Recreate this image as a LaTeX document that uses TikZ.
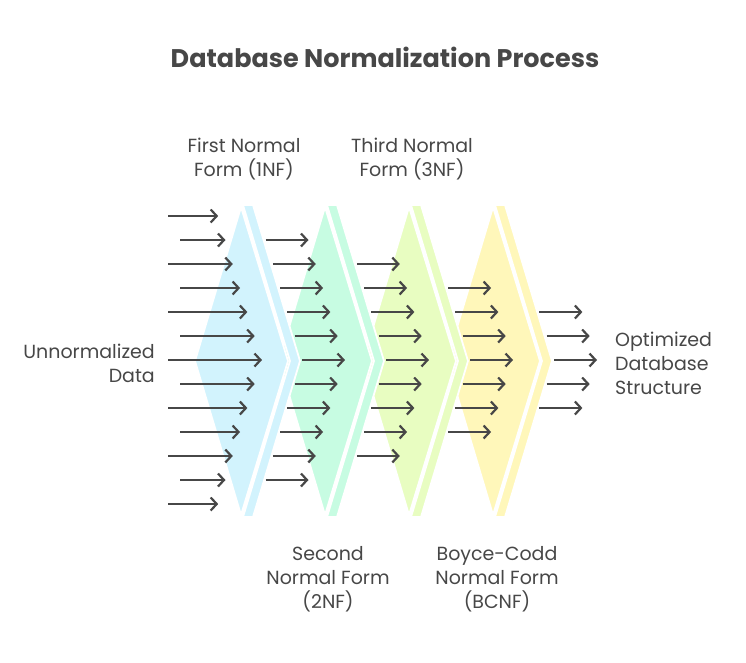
\documentclass[tikz,border=0pt]{standalone}
\usepackage{fontspec}
\setmainfont{Poppins}
\usepackage{xcolor}
\usepackage{tikz}
\usetikzlibrary{arrows.meta, positioning}

\definecolor{inkgray}{RGB}{71,71,71}
\definecolor{stageblue}{RGB}{210,243,253}
\definecolor{stagegreen}{RGB}{199,252,226}
\definecolor{stagelime}{RGB}{232,253,193}
\definecolor{stageyellow}{RGB}{255,247,186}

\tikzset{
    stageshape/.style={draw=white, line width=1.8pt, line join=miter},
    flowarrow/.style={draw=inkgray, line width=2.2pt, -{Straight Barb[length=6pt,width=13pt]}},
    stagetext/.style={text=inkgray, align=center, inner sep=0pt, font=\fontsize{19}{24}\selectfont},
    headline/.style={text=inkgray, inner sep=0pt, font=\fontsize{25.5}{28}\selectfont\bfseries},
}

\begin{document}
\begin{tikzpicture}[x=1pt, y=-1pt]
            \useasboundingbox (0,0) rectangle (746,662);
            % Define stages, last one first so each overlaps the next
            \foreach \k/\col in {3/stageyellow, 2/stagelime, 1/stagegreen, 0/stageblue} {
                \filldraw[fill=\col, stageshape] ({195+84*\k},361) -- ({241+84*\k},207) -- ({288+84*\k},361) -- ({241+84*\k},515) -- cycle;
                \filldraw[fill=\col, stageshape] ({243+84*\k},205) -- ({253+84*\k},205) -- ({300+84*\k},361) -- ({253+84*\k},517) -- ({243+84*\k},517) -- ({290+84*\k},361) -- cycle;
            }
            % Input arrows
            \foreach \j in {-6,...,6} {
                \pgfmathtruncatemacro\dj{abs(\j)}
                \pgfmathsetmacro\xs{isodd(\dj) ? 180 : 168}
                \draw[flowarrow] (\xs,{360+24*\j}) -- ({262-7.3*\dj},{360+24*\j});
            }
            % Arrows after each stage
            \foreach \k in {1,...,4} {
                \pgfmathtruncatemacro\n{6-\k}
                \foreach \j in {-\n,...,\n} {
                    \pgfmathtruncatemacro\dj{abs(\j)}
                    \draw[flowarrow] ({302+84*(\k-1)-7.3*\dj},{360+24*\j}) -- ({345+84*(\k-1)-7.3*\dj},{360+24*\j});
                }
            }
            % Labels
            \node[headline] (title) at (385,57) {Database Normalization Process};
            \node[stagetext] (first) at (244,159) {First Normal\\Form (1NF)};
            \node[stagetext] (third) at (412,159) {Third Normal\\Form (3NF)};
            \node[stagetext] (second) at (328,579) {Second\\Normal Form\\(2NF)};
            \node[stagetext] (bcnf) at (497,579) {Boyce-Codd\\Normal Form\\(BCNF)};
            \node[stagetext, anchor=east, align=right] (input) at (155,363) {Unnormalized\\Data};
            \node[stagetext, anchor=west, align=left] (output) at (615,363) {Optimized\\Database\\Structure};
\end{tikzpicture}
\end{document}
